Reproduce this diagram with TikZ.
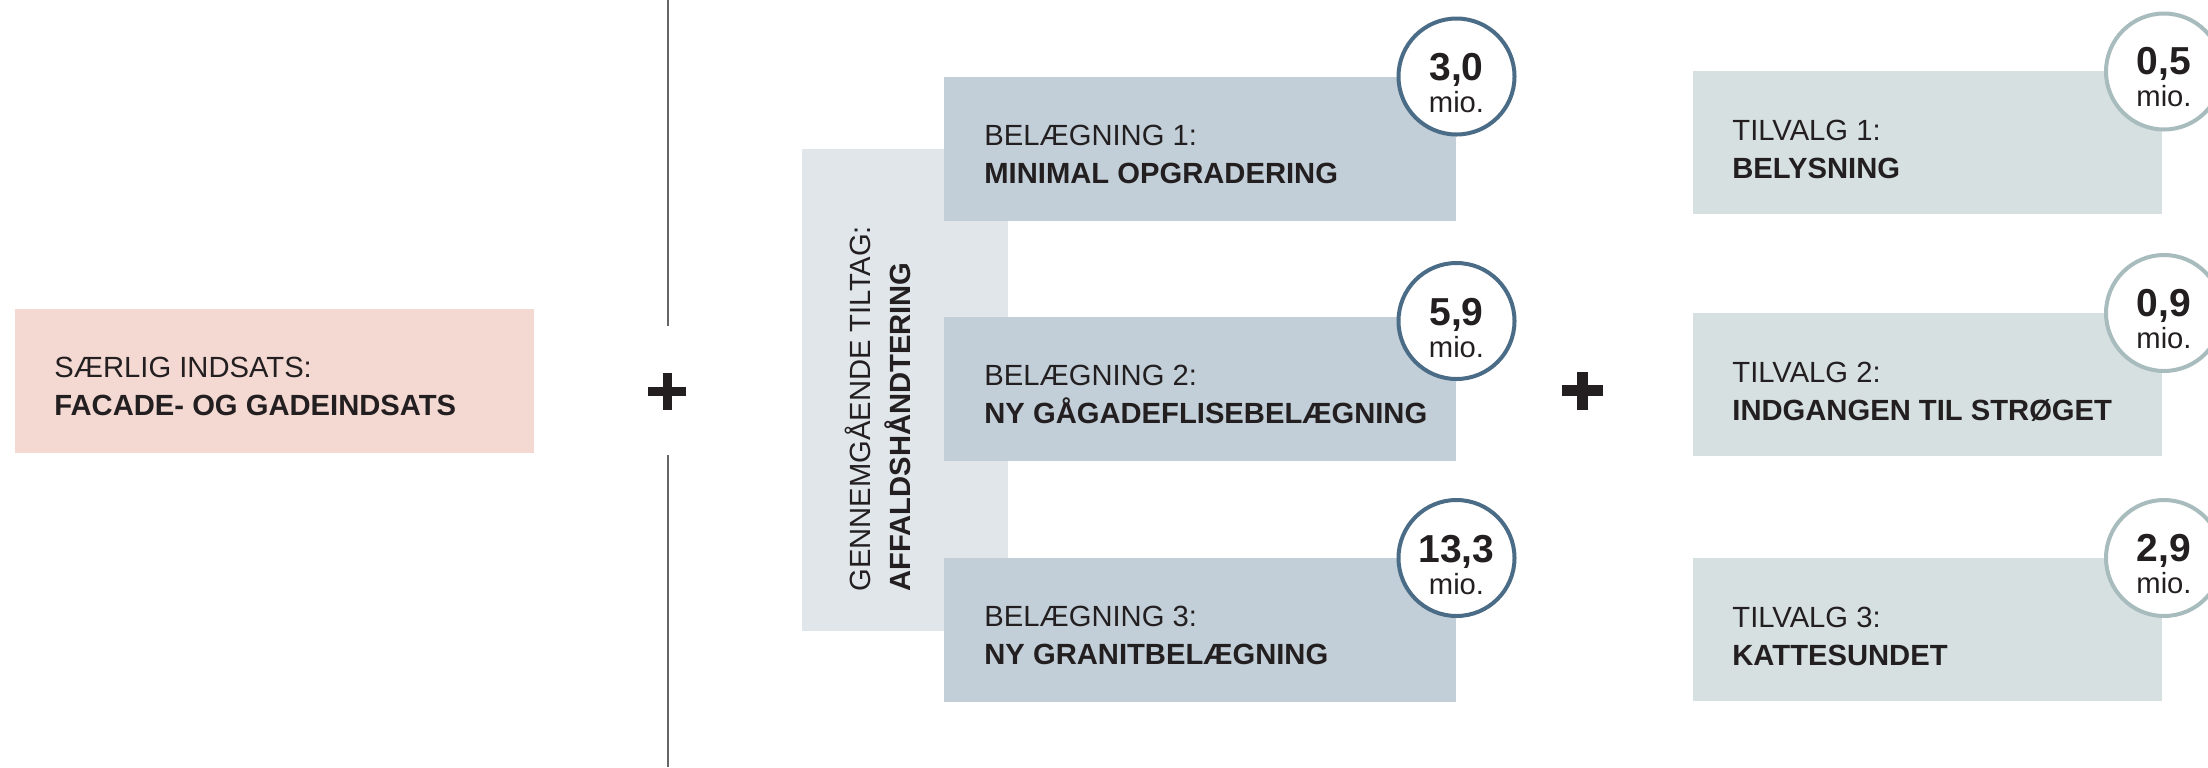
\documentclass[tikz,border=0pt]{standalone}
\usepackage{fontspec}
\setmainfont{Liberation Sans}
\usetikzlibrary{positioning}

\definecolor{pinkfill}{HTML}{F4D9D3}
\definecolor{tiltagfill}{HTML}{E0E6EA}
\definecolor{belfill}{HTML}{C2CFD8}
\definecolor{tilfill}{HTML}{D6E0E1}
\definecolor{belring}{HTML}{4A6C86}
\definecolor{tilring}{HTML}{A8BCBD}
\definecolor{ink}{HTML}{231F20}
\definecolor{rulegray}{HTML}{666666}

\begin{document}
\begin{tikzpicture}[x=0.5pt, y=-0.5pt, text=ink, font=\fontsize{14.6}{19}\selectfont]
    \tikzset{
        fillbox/.style={anchor=north west, inner sep=0, outer sep=0, minimum height=#1},
        headline/.style={anchor=base west, inner sep=0},
        titleline/.style={anchor=base west, inner sep=0, font=\fontsize{14.6}{19}\selectfont\bfseries},
        pricering/.style={circle, draw=#1, line width=2pt, fill=white, minimum size=58pt, inner sep=0},
        pricetext/.style={anchor=base, inner sep=0, font=\fontsize{19.5}{20}\selectfont\bfseries},
        miotext/.style={anchor=base, inner sep=0},
        plusmark/.style={ink, line width=#1}
    }

    \useasboundingbox (0,0) rectangle (2208,767);

    % saerlig indsats
    \node [fillbox=72pt, fill=pinkfill, minimum width=259.5pt] (saerlig) at (15,309) {};
    \node [headline] (saerligHead) at (54,377) {SÆRLIG INDSATS:};
    \node [titleline] (saerligTitle) at (54,415) {FACADE- OG GADEINDSATS};

    % skillelinje og plus
    \coordinate (ruleTop) at (668,0);
    \coordinate (ruleA) at (668,326);
    \coordinate (ruleB) at (668,455);
    \coordinate (ruleBottom) at (668,767);
    \draw [rulegray, line width=0.9pt] (ruleTop) -- (ruleA) (ruleB) -- (ruleBottom);
    \draw [plusmark=4.5pt] (648,391.5) -- (686,391.5) (667.5,373) -- (667.5,410);

    % gennemgaaende tiltag
    \node [fillbox=241pt, fill=tiltagfill, minimum width=103pt] (tiltag) at (802,149) {};
    \node [headline, rotate=90] (tiltagHead) at (870,592) {GENNEMGÅENDE TILTAG:};
    \node [titleline, rotate=90] (tiltagTitle) at (910,592) {AFFALDSHÅNDTERING};

    % belaegning
    \node [fillbox=72pt, fill=belfill, minimum width=256pt] (bel1) at (944,77) {};
    \node [headline] (bel1Head) at (984,145) {BELÆGNING 1:};
    \node [titleline] (bel1Title) at (984,183) {MINIMAL OPGRADERING};

    \node [fillbox=72pt, fill=belfill, minimum width=256pt] (bel2) at (944,317) {};
    \node [headline] (bel2Head) at (984,385) {BELÆGNING 2:};
    \node [titleline] (bel2Title) at (984,423) {NY GÅGADEFLISEBELÆGNING};

    \node [fillbox=72pt, fill=belfill, minimum width=256pt] (bel3) at (944,558) {};
    \node [headline] (bel3Head) at (984,626) {BELÆGNING 3:};
    \node [titleline] (bel3Title) at (984,664) {NY GRANITBELÆGNING};

    \node [pricering=belring] (belRing1) at (1456.5,76.5) {};
    \node [pricetext] (belPrice1) at ([yshift=-2pt]belRing1.center) {3,0};
    \node [miotext] (belMio1) at ([yshift=-18pt]belRing1.center) {mio.};

    \node [pricering=belring] (belRing2) at (1456.5,321) {};
    \node [pricetext] (belPrice2) at ([yshift=-2pt]belRing2.center) {5,9};
    \node [miotext] (belMio2) at ([yshift=-18pt]belRing2.center) {mio.};

    \node [pricering=belring] (belRing3) at (1456.5,558) {};
    \node [pricetext] (belPrice3) at ([yshift=-2pt]belRing3.center) {13,3};
    \node [miotext] (belMio3) at ([yshift=-18pt]belRing3.center) {mio.};

    % plus
    \draw [plusmark=5.5pt] (1562,390.5) -- (1603,390.5) (1582.5,372) -- (1582.5,410);

    % tilvalg
    \node [fillbox=71.5pt, fill=tilfill, minimum width=234.5pt] (til1) at (1693,71) {};
    \node [headline] (til1Head) at (1732,140) {TILVALG 1:};
    \node [titleline] (til1Title) at (1732,178) {BELYSNING};

    \node [fillbox=71.5pt, fill=tilfill, minimum width=234.5pt] (til2) at (1693,313) {};
    \node [headline] (til2Head) at (1732,382) {TILVALG 2:};
    \node [titleline] (til2Title) at (1732,420) {INDGANGEN TIL STRØGET};

    \node [fillbox=71.5pt, fill=tilfill, minimum width=234.5pt] (til3) at (1693,558) {};
    \node [headline] (til3Head) at (1732,627) {TILVALG 3:};
    \node [titleline] (til3Title) at (1732,665) {KATTESUNDET};

    \node [pricering=tilring] (tilRing1) at (2164,71.5) {};
    \node [pricetext] (tilPrice1) at ([yshift=-1.5pt]tilRing1.center) {0,5};
    \node [miotext] (tilMio1) at ([yshift=-17.5pt]tilRing1.center) {mio.};

    \node [pricering=tilring] (tilRing2) at (2164,313) {};
    \node [pricetext] (tilPrice2) at ([yshift=-1.5pt]tilRing2.center) {0,9};
    \node [miotext] (tilMio2) at ([yshift=-17.5pt]tilRing2.center) {mio.};

    \node [pricering=tilring] (tilRing3) at (2164,558) {};
    \node [pricetext] (tilPrice3) at ([yshift=-1.5pt]tilRing3.center) {2,9};
    \node [miotext] (tilMio3) at ([yshift=-17.5pt]tilRing3.center) {mio.};

\end{tikzpicture}
\end{document}
